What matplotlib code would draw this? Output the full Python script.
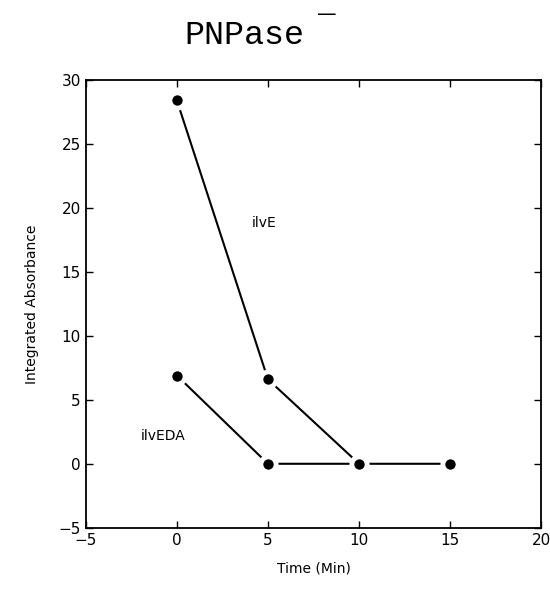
import numpy as np
from matplotlib import pyplot as plt

# readings
time_ilve = [0, 5, 10]
abs_ilve = [28.4, 6.6, 0.0]

time_ilveda = [0, 5, 10, 15]
abs_ilveda = [6.9, 0.0, 0.0, 0.0]

x_ticks = [-5, 0, 5, 10, 15, 20]
y_ticks = [-5, 0, 5, 10, 15, 20, 25, 30]

fig = plt.figure(figsize=(5.5, 5.97), dpi=100)
ax = fig.add_axes([0.156, 0.116, 0.828, 0.75])

# white marker edges leave the little gaps between dots and lines
style = dict(color='black', linewidth=1.5, marker='o', markersize=11,
             markerfacecolor='black', markeredgecolor='white', markeredgewidth=3.5)
ax.plot(time_ilve, abs_ilve, **style)
ax.plot(time_ilveda, abs_ilveda, **style)

ax.text(4.1, 18.8, 'ilvE', fontsize=10, va='center', ha='left')
ax.text(-2.0, 2.2, 'ilvEDA', fontsize=10, va='center', ha='left')

ax.set_xlim(-5, 20)
ax.set_ylim(-5, 30)
ax.set_xticks(x_ticks)
ax.set_yticks(y_ticks)
ax.tick_params(direction='in', top=True, right=True, length=5, width=1,
               labelsize=11)
for s in ax.spines.values():
	s.set_linewidth(1.3)

ax.set_xlabel('Time (Min)', fontsize=10, labelpad=10)
ax.set_ylabel('Integrated Absorbance', fontsize=10, labelpad=14)

fig.text(0.445, 0.94, 'PNPase', family='Liberation Mono', fontsize=24,
         ha='center', va='center')
fig.text(0.595, 0.975, '\u2014', family='DejaVu Sans', fontsize=14,
         ha='center', va='center')

plt.savefig('out.png', dpi=100)
